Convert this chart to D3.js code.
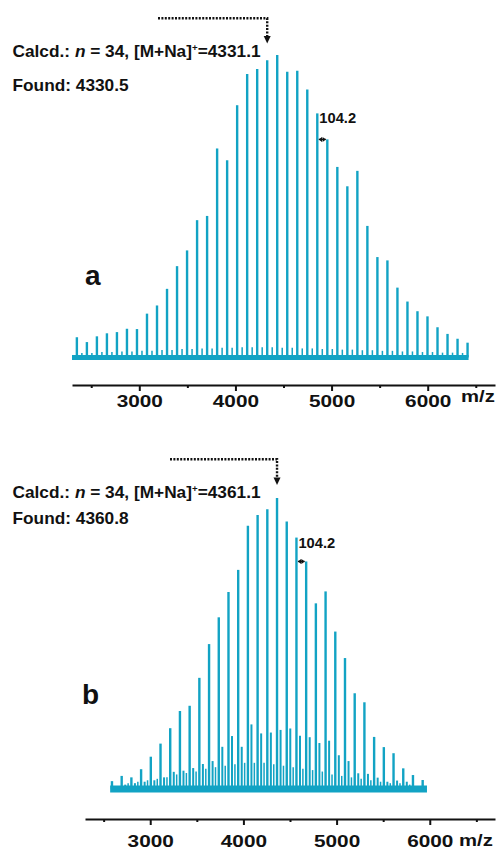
<!DOCTYPE html>
<html>
<head>
<meta charset="utf-8">
<script src="https://cdn.jsdelivr.net/npm/d3@7"></script>
<style>
  body { margin: 0; background: #fff; }
  svg { display: block; }
  text { font-family: "Liberation Sans", Arial, sans-serif; font-weight: bold; fill: #111; }
</style>
</head>
<body>
<svg width="500" height="850"></svg>
<script>
// MALDI-TOF spectra, two samples (a, b)

// panel a: main series, m/z and relative intensity
const mzA = [2350.7, 2454.9, 2559.1, 2663.3, 2767.5, 2871.7, 2975.9, 3080.1, 3184.3, 3288.5,
  3392.7, 3496.9, 3601.1, 3705.3, 3809.5, 3913.7, 4017.9, 4122.1, 4226.3, 4330.5,
  4434.7, 4538.9, 4643.1, 4747.3, 4851.5, 4955.7, 5059.9, 5164.1, 5268.3, 5372.5,
  5476.7, 5580.9, 5685.1, 5789.3, 5893.5, 5997.7, 6101.9, 6206.1, 6310.3, 6414.5];
const intA = [6.7, 5.1, 7.0, 8.0, 8.4, 9.5, 9.4, 14.5, 17.2, 22.7,
  30.2, 35.4, 45.4, 46.8, 69.1, 65.2, 83.4, 93.7, 95.4, 98.3,
  100, 94.5, 94.8, 88.6, 80.7, 72.1, 63.0, 56.6, 61.7, 43.5,
  33.2, 32.1, 23.1, 18.5, 15.3, 13.6, 10.0, 7.8, 6.2, 4.9];
// panel a: small satellite peaks
const mzA2 = [2402.7, 2506.9, 2611.1, 2715.3, 2819.5, 2923.7, 3027.9, 3132.1, 3236.3, 3340.5,
  3444.7, 3548.9, 3653.1, 3757.3, 3861.5, 3965.7, 4069.9, 4174.1, 4278.3, 4382.5,
  4486.7, 4590.9, 4695.1, 4799.3, 4903.5, 5007.7, 5111.9, 5216.1, 5320.3, 5424.5,
  5528.7, 5632.9, 5737.1, 5841.3, 5945.5, 6049.7, 6153.9, 6258.1, 6362.3];
const intA2 = [1.5, 1.5, 1.8, 1.8, 2.0, 2.0, 2.2, 2.2, 2.5, 2.5,
  2.8, 2.8, 3.0, 3.0, 3.2, 3.2, 3.4, 3.4, 3.4, 3.4,
  3.2, 3.2, 3.0, 3.0, 2.8, 2.8, 2.6, 2.6, 2.4, 2.4,
  2.2, 2.2, 2.0, 2.0, 1.8, 1.8, 1.6, 1.6, 1.5];

// panel b: main series
const mzB = [2589.4, 2693.6, 2797.8, 2902.0, 3006.2, 3110.4, 3214.6, 3318.8, 3423.0, 3527.2,
  3631.4, 3735.6, 3839.8, 3944.0, 4048.2, 4152.4, 4256.6, 4360.8, 4465.0, 4569.2,
  4673.4, 4777.6, 4881.8, 4986.0, 5090.2, 5194.4, 5298.6, 5402.8, 5507.0, 5611.2,
  5715.4, 5819.6, 5923.8];
const intB = [2.7, 4.5, 4.0, 6.8, 11.1, 15.6, 20.9, 26.8, 28.6, 38.2,
  49.8, 59.0, 67.7, 75.3, 90.5, 94.2, 96.1, 100, 91.9, 86.4,
  78.2, 63.8, 67.9, 54.1, 45.0, 32.9, 29.8, 17.9, 14.4, 12.3,
  7.1, 4.8, 3.1];
// panel b: second series
const mzB2 = [2731.6, 2835.8, 2940.0, 3044.2, 3148.4, 3252.6, 3356.8, 3461.0, 3565.2, 3669.4,
  3773.6, 3877.8, 3982.0, 4086.2, 4190.4, 4294.6, 4398.8, 4503.0, 4607.2, 4711.4,
  4815.6, 4919.8, 5024.0, 5128.2, 5232.4, 5336.6, 5440.8, 5545.0, 5649.2, 5753.4];
const intB2 = [1.5, 2.0, 2.5, 3.0, 4.0, 5.9, 6.3, 7.2, 8.6, 9.6,
  14.5, 18.2, 14.5, 22.2, 19.1, 19.4, 20.3, 20.8, 18.3, 17.8,
  15.8, 16.6, 11.6, 9.6, 5.4, 5.2, 3.9, 2.5, 2.9, 2.5];
// panel b: third, weaker series
const mzB3 = [2762.8, 2867.0, 2971.2, 3075.4, 3179.6, 3283.8, 3388.0, 3492.2, 3596.4, 3700.6,
  3804.8, 3909.0, 4013.2, 4117.4, 4221.6, 4325.8, 4430.0, 4534.2, 4638.4, 4742.6,
  4846.8, 4951.0, 5055.2, 5159.4, 5263.6, 5367.8, 5472.0, 5576.2, 5680.4, 5784.6];
const intB3 = [2.0, 2.5, 3.0, 3.5, 4.0, 5.0, 5.5, 6.0, 7.0, 7.5,
  8.0, 8.5, 9.0, 9.0, 9.0, 8.5, 8.0, 7.5, 7.0, 6.5,
  6.0, 5.0, 4.5, 4.0, 3.5, 3.0, 2.5, 2.0, 2.0, 1.5];

// axis
const mzDomain = [2300, 6700];
const majorTicks = [3000, 4000, 5000, 6000];
const minorTicks = [2500, 3500, 4500, 5500, 6500];

// annotation texts
const panelNames = ["a", "b"];
const calcdMass = ["4331.1", "4361.1"];
const foundMass = ["4330.5", "4360.8"];
const repeatMass = "104.2";

const color = "#12a3c4";
const svg = d3.select("svg");

function drawPanel(p) {
  const x = d3.scaleLinear().domain(mzDomain).range(p.xRange);
  const y = d3.scaleLinear().domain([0, 100]).range(p.yRange);
  const g = svg.append("g");

  // baseline
  g.append("line")
    .attr("x1", x(p.base[0]))
    .attr("x2", x(p.base[1]))
    .attr("y1", y(0))
    .attr("y2", y(0))
    .attr("stroke", color)
    .attr("stroke-width", p.baseWidth);

  // peaks, weakest series first
  p.series.forEach(s => {
    g.append("g")
      .selectAll("line")
      .data(s.mz.map((m, i) => [m, s.int[i]]))
      .enter()
      .append("line")
        .attr("x1", d => x(d[0]))
        .attr("x2", d => x(d[0]))
        .attr("y1", y(0))
        .attr("y2", d => y(d[1]))
        .attr("stroke", color)
        .attr("stroke-width", s.width);
  });

  // x axis
  const axisG = g.append("g")
    .attr("transform", `translate(0, ${p.axisY})`);
  axisG.call(d3.axisBottom(x).tickValues(majorTicks).tickFormat(d3.format("d"))
    .tickSize(6).tickSizeOuter(0));
  axisG.append("g")
    .call(d3.axisBottom(x).tickValues(minorTicks).tickFormat("").tickSize(3).tickSizeOuter(0))
    .select(".domain").remove();
  axisG.selectAll("path, line")
    .attr("stroke", "#111")
    .attr("stroke-width", 2);
  axisG.selectAll(".tick text")
    .attr("y", p.tickTextY)
    .attr("dy", null)
    .attr("font-size", 16)
    .attr("font-family", null)
    .attr("fill", "#111")
    .attr("transform", "scale(1.3,1)")
    .attr("x", 0);

  g.append("text")
    .attr("transform", `translate(${p.mzLabel[0]}, ${p.mzLabel[1]}) scale(1.27,1)`)
    .attr("font-size", 16)
    .text("m/z");

  // panel letter
  g.append("text")
    .attr("x", p.letter[0])
    .attr("y", p.letter[1])
    .attr("font-size", 28)
    .text(p.name);

  // calcd / found
  const t = g.append("text")
    .attr("transform", `translate(12.5, ${p.calcdY}) scale(1.08,1)`)
    .attr("font-size", 16);
  t.append("tspan").text("Calcd.: ");
  t.append("tspan").attr("font-style", "italic").text("n");
  t.append("tspan").text(" = 34, [M+Na]");
  t.append("tspan").attr("font-size", 9).attr("dy", -6).text("+");
  t.append("tspan").attr("dy", 6).text("=" + p.calcd);

  g.append("text")
    .attr("transform", `translate(12.5, ${p.foundY}) scale(1.08,1)`)
    .attr("font-size", 16)
    .text("Found: " + p.found);

  // dotted leader with arrow to the found peak
  const ax = x(+p.found);
  g.append("path")
    .attr("d", `M${p.leaderX},${p.leaderY}H${ax}V${p.arrowY - 6}`)
    .attr("fill", "none")
    .attr("stroke", "#111")
    .attr("stroke-width", 2.4)
    .attr("stroke-dasharray", "2,1.4");
  g.append("path")
    .attr("d", `M${ax - 3.5},${p.arrowY - 7.5}L${ax + 3.5},${p.arrowY - 7.5}L${ax},${p.arrowY}Z`)
    .attr("fill", "#111");

  // repeat unit spacing marker
  const main = p.series[p.series.length - 1];
  const x1 = x(main.mz[p.gap]) + 1.5, x2 = x(main.mz[p.gap + 1]) - 1.5;
  const yy = y(main.int[p.gap + 1]);
  g.append("line")
    .attr("x1", x1).attr("x2", x2)
    .attr("y1", yy).attr("y2", yy)
    .attr("stroke", "#111")
    .attr("stroke-width", 1.4);
  g.append("path")
    .attr("d", `M${x1},${yy}l3.2,-2.5v5Z M${x2},${yy}l-3.2,-2.5v5Z`)
    .attr("fill", "#111");
  g.append("text")
    .attr("transform", `translate(${x1 + 0.5}, ${y(main.int[p.gap]) + 10}) scale(1.05,1)`)
    .attr("font-size", 14)
    .text(repeatMass);
}

drawPanel({
  name: panelNames[0], calcd: calcdMass[0], found: foundMass[0],
  xRange: [72, 495], yRange: [357.5, 55], axisY: 385, tickTextY: 22,
  base: [2300, 6425], baseWidth: 5,
  series: [
    { mz: mzA2, int: intA2, width: 1.5 },
    { mz: mzA, int: intA, width: 2.4 }
  ],
  gap: 24,
  mzLabel: [461, 402], letter: [85, 285],
  calcdY: 57, foundY: 90.5, leaderX: 158, leaderY: 18.3, arrowY: 43.5
});

drawPanel({
  name: panelNames[1], calcd: calcdMass[1], found: foundMass[1],
  xRange: [85, 495], yRange: [789, 498], axisY: 819, tickTextY: 28,
  base: [2570, 5970], baseWidth: 7,
  series: [
    { mz: mzB3, int: intB3, width: 1.5 },
    { mz: mzB2, int: intB2, width: 2 },
    { mz: mzB, int: intB, width: 2.4 }
  ],
  gap: 19,
  mzLabel: [459, 846], letter: [82, 704],
  calcdY: 498.3, foundY: 524.3, leaderX: 170, leaderY: 459.3, arrowY: 485
});
</script>
</body>
</html>
